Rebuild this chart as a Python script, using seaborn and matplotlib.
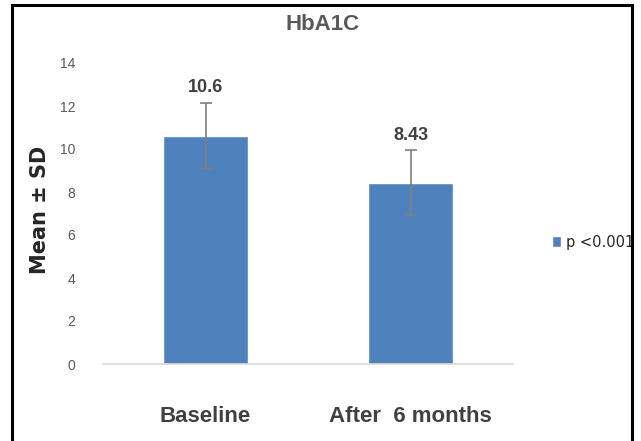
import matplotlib
matplotlib.use("Agg")
import matplotlib.pyplot as plt
import seaborn as sns
import pandas as pd
from matplotlib.patches import Rectangle

categories = ["Baseline", "After  6 months"]
means = [10.6, 8.43]
sds = [1.55, 1.52]
value_labels = ["10.6", "8.43"]
yticks = [0, 2, 4, 6, 8, 10, 12, 14]
legend_label = "p <0.001"
title = "HbA1C"
ylabel = "Mean ± SD"

sns.set_style("white")
plt.rcParams['font.family'] = ['Liberation Sans Narrow', 'Liberation Sans', 'DejaVu Sans']

df = pd.DataFrame({"cat": categories, "mean": means})

fig = plt.figure(figsize=(6.41, 4.41), dpi=100)
ax = fig.add_axes([103/641, 77/441, 410/641, 301/441])

sns.barplot(data=df, x="cat", y="mean", color="#4F81BD", saturation=1,
            width=0.41, errorbar=None, ax=ax, label=legend_label)
ax.errorbar(range(len(categories)), means, yerr=sds, fmt="none",
            ecolor="#7F7F7F", elinewidth=1.2, capsize=4, capthick=1.2)

for i, (m, s, t) in enumerate(zip(means, sds, value_labels)):
    ax.text(i, m + s + 0.3, t, ha="center", va="bottom", fontsize=13,
            fontweight="bold", color="#404040")

ax.set_xlim(-0.5, 1.5)
ax.set_ylim(0, 14)
ax.set_yticks(yticks)
ax.set_yticklabels([str(v) for v in yticks], fontsize=10, color="#595959")
ax.tick_params(axis="y", length=0, pad=20)
ax.tick_params(axis="x", length=0, pad=30, labelsize=16, labelcolor="#404040")
for lab in ax.get_xticklabels():
    lab.set_fontweight("bold")
ax.set_xlabel("")
ax.set_ylabel("")
for sp in ["left", "right", "top"]:
    ax.spines[sp].set_visible(False)
ax.spines["bottom"].set_color("#D9D9D9")
ax.spines["bottom"].set_linewidth(1.2)

fig.text(323/641, 1 - 25/441, title, ha="center", va="center", fontsize=16,
         fontweight="bold", color="#595959")
fig.text(40/641, 1 - 210/441, ylabel, ha="center", va="center", rotation=90,
         fontsize=15, fontweight="bold", color="#262626", family=["DejaVu Sans"])

leg = ax.legend(loc="center left", bbox_to_anchor=(552/641, 1 - 242/441),
                bbox_transform=fig.transFigure, frameon=False,
                borderaxespad=0, borderpad=0,
                handlelength=0.6, handleheight=0.7, handletextpad=0.35,
                prop={"family": ["DejaVu Sans"], "size": 10.5})

fig.patches.append(Rectangle((12/641, -0.05), 620/641, 1.05 - 5/441,
                             transform=fig.transFigure, fill=False,
                             edgecolor="black", linewidth=2.2))

fig.savefig("out.png", dpi=100)
